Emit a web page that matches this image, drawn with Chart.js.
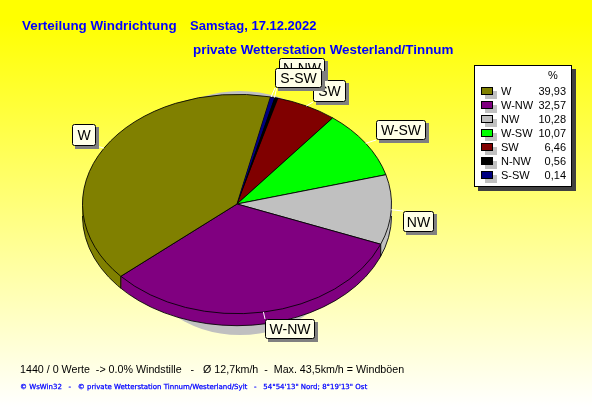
<!DOCTYPE html>
<html><head><meta charset="utf-8">
<script src="https://cdn.jsdelivr.net/npm/chart.js@4"></script>
<style>
html,body{margin:0;padding:0;width:592px;height:407px;overflow:hidden;background:linear-gradient(#ffff00 0%,#ffff00 5%,#ffffff 100%);}
canvas{position:absolute;left:0;top:0;}
</style></head><body>
<div style="position:absolute;left:0;top:0;width:592px;height:407px"><canvas id="c" width="592" height="407"></canvas></div>
<script>
const categories=["S-SW","N-NW","SW","W-SW","NW","W-NW","W"];
const values=[0.14,0.56,6.46,10.07,10.28,32.57,39.93];
const colors=["#000080","#000000","#800000","#00ff00","#c0c0c0","#800080","#808000"];
const legendOrder=["W","W-NW","NW","W-SW","SW","N-NW","S-SW"];
const legendText=["39,93","32,57","10,28","10,07","6,46","0,56","0,14"];
const legendColors=["#808000","#800080","#c0c0c0","#00ff00","#800000","#000000","#000080"];
const titleA1="Verteilung Windrichtung";
const titleA2="Samstag, 17.12.2022";
const titleB="private Wetterstation Westerland/Tinnum";
const footA="1440 / 0 Werte  -> 0.0% Windstille   -   Ø 12,7km/h  -  Max. 43,5km/h = Windböen";
const footB="© WsWin32   -   © private Wetterstation Tinnum/Westerland/Sylt   -   54°54'13\" Nord; 8°19'13\" Ost";
const squash=0.71, depth=12;
const callouts=[
 {t:"W",x:72,y:124,w:24,h:22,i:6},
 {t:"W-NW",x:265,y:319,w:50,h:20,i:5},
 {t:"NW",x:403,y:211,w:31,h:21,i:4},
 {t:"W-SW",x:376,y:120,w:50,h:20,i:3},
 {t:"SW",x:313,y:80,w:33,h:22,i:2},
 {t:"N-NW",x:279,y:58,w:46,h:20,i:1},
 {t:"S-SW",x:275,y:68,w:47,h:20,i:0}
];
function slicePath(ctx,a,cx,cy,dy){
  ctx.beginPath();ctx.moveTo(cx,cy+dy/squash);
  ctx.arc(cx,cy+dy/squash,a.outerRadius,a.startAngle,a.endAngle);ctx.closePath();
}
const pie3d={id:'pie3d',
 beforeDatasetsDraw(ch){
  const ctx=ch.ctx,arcs=ch.getDatasetMeta(0).data,cx=arcs[0].x,cy=arcs[0].y,R=arcs[0].outerRadius;
  // drop shadow
  ctx.fillStyle="#c0c0c0";
  ctx.beginPath();ctx.ellipse(cx+3,cy+51,100,80,0,0,Math.PI*2);ctx.fill();
  ctx.beginPath();ctx.ellipse(cx+3,cy-33,100,80,0,0,Math.PI*2);ctx.fill();
  ctx.save();
  ctx.translate(cx,cy);ctx.scale(1,squash);ctx.translate(-cx,-cy);
  // side wall
  for(let d=depth;d>0;d--){arcs.forEach((a,i)=>{ctx.fillStyle=colors[i];slicePath(ctx,a,cx,cy,d);ctx.fill();});}
  ctx.strokeStyle="#000";ctx.lineWidth=1;
  ctx.beginPath();ctx.arc(cx,cy+depth/squash,R,0,Math.PI);ctx.stroke();
  ctx.restore();
  ctx.save();ctx.strokeStyle="#000";ctx.lineWidth=1;
  arcs.forEach(a=>{const s=Math.sin(a.endAngle);if(s>0){const px=cx+R*Math.cos(a.endAngle),py=cy+R*s*squash;
    ctx.beginPath();ctx.moveTo(px,py);ctx.lineTo(px,py+depth);ctx.stroke();}});
  ctx.restore();
  ctx.save();
  ctx.translate(cx,cy);ctx.scale(1,squash);ctx.translate(-cx,-cy);
 },
 afterDatasetsDraw(ch){
  const ctx=ch.ctx;ctx.restore();
  const arcs=ch.getDatasetMeta(0).data,cx=arcs[0].x,cy=arcs[0].y,R=arcs[0].outerRadius;
  // thin slices are drawn slightly widened, as in the reference's raster
  const a0=arcs[0].startAngle,tx=cx+R*Math.cos(a0),ty=cy+R*Math.sin(a0)*squash;
  [[0,4,"#000080"],[4,8,"#000000"]].forEach(([o1,o2,col])=>{
   ctx.fillStyle=col;ctx.beginPath();ctx.moveTo(cx,cy);ctx.lineTo(tx+o1,ty+0.5);ctx.lineTo(tx+o2,ty+1);ctx.closePath();ctx.fill();
  });
  ctx.lineWidth=1;
  ctx.textBaseline="alphabetic";
  // callouts
  callouts.forEach(c=>{
   const a=arcs[c.i],m=(a.startAngle+a.endAngle)/2;
   const px=cx+R*Math.cos(m),py=cy+R*Math.sin(m)*squash;
   const qx=Math.max(c.x,Math.min(c.x+c.w,px)),qy=Math.max(c.y,Math.min(c.y+c.h,py));
   ctx.strokeStyle="#fff";ctx.lineWidth=1;ctx.beginPath();ctx.moveTo(px,py);ctx.lineTo(qx,qy);ctx.stroke();
   ctx.fillStyle="#808080";ctx.fillRect(c.x+3,c.y+3,c.w,c.h);
   ctx.fillStyle="#ffffe8";ctx.beginPath();ctx.roundRect(c.x+.5,c.y+.5,c.w-1,c.h-1,2);ctx.fill();
   ctx.strokeStyle="#000";ctx.stroke();
   ctx.fillStyle="#000";ctx.font="14px 'Liberation Sans'";ctx.textAlign="center";
   ctx.fillText(c.t,c.x+c.w/2,c.y+c.h/2+5);
  });
  // legend
  ctx.fillStyle="#404040";ctx.fillRect(478,69,98,122);
  ctx.fillStyle="#fff";ctx.fillRect(474,65,98,122);
  ctx.strokeStyle="#000";ctx.strokeRect(474.5,65.5,97,121);
  ctx.font="11px 'Liberation Sans'";ctx.fillStyle="#000";ctx.textAlign="center";
  ctx.fillText("%",553,79);
  legendOrder.forEach((n,i)=>{
   const y=91+i*14;
   ctx.fillStyle="#c0c0c0";ctx.fillRect(485,y+0,12,8);
   ctx.fillStyle=legendColors[i];ctx.fillRect(481,y-4,12,8);
   ctx.strokeStyle="#000";ctx.strokeRect(481.5,y-3.5,11,7);
   ctx.fillStyle="#000";ctx.textAlign="left";ctx.fillText(n,501,y+4);
   ctx.textAlign="right";ctx.fillText(legendText[i],566,y+4);
  });
  // titles
  ctx.textAlign="left";ctx.fillStyle="#0000ff";ctx.font="bold 13.4px 'Liberation Sans'";
  ctx.fillText(titleA1,22,30);ctx.fillText(titleB,193,54);
  ctx.font="bold 13px 'Liberation Sans'";ctx.fillText(titleA2,190,30);
  ctx.fillStyle="#000";ctx.font="10.7px 'Liberation Sans'";ctx.fillText(footA,20,373);
  ctx.fillStyle="#0000ff";ctx.strokeStyle="#0000ff";ctx.lineWidth=0.25;ctx.font="7px 'DejaVu Sans'";
  ctx.fillText(footB,20,389);ctx.strokeText(footB,20,389);
 }
};
new Chart(document.getElementById('c'),{
 type:'pie',
 data:{labels:categories,datasets:[{data:values,backgroundColor:colors,borderColor:"#000",borderWidth:1}]},
 options:{responsive:false,animation:false,rotation:12.5,
  layout:{padding:{left:82,right:200,top:49,bottom:48}},
  plugins:{legend:{display:false},tooltip:{enabled:false},title:{display:false}}},
 plugins:[pie3d]
});
</script>
</body></html>
